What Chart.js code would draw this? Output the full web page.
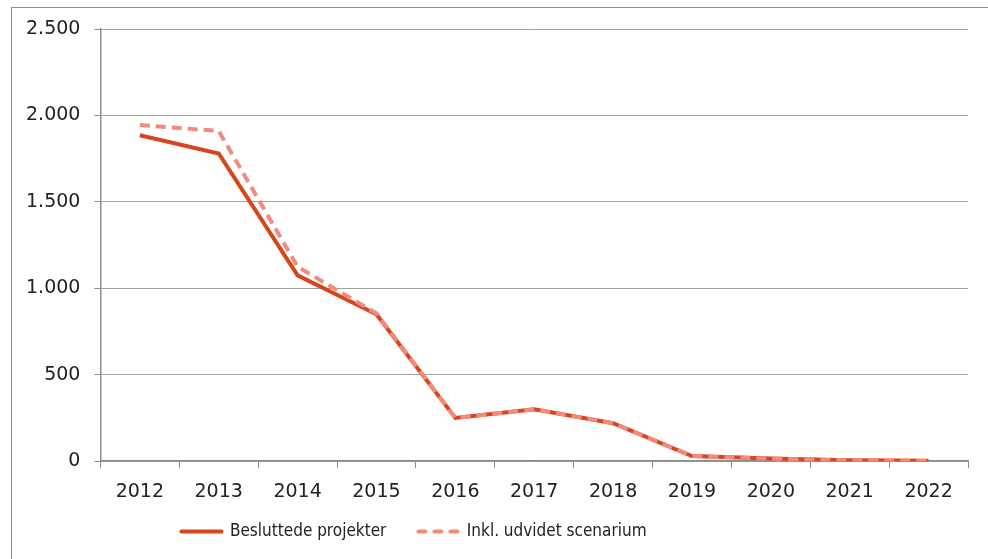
<!DOCTYPE html>
<html>
<head>
<meta charset="utf-8">
<script src="https://cdn.jsdelivr.net/npm/chart.js@4"></script>
<style>
  html, body { margin: 0; padding: 0; background: #fff; }
  #wrap { position: relative; width: 988px; height: 559px; overflow: hidden; }
  #frame { position: absolute; left: 11px; top: 7px; width: 1000px; height: 600px; border: 1px solid #8c8c8c; box-sizing: border-box; }
  canvas { position: absolute; left: 0; top: 0; }
</style>
</head>
<body>
<div id="wrap">
  <div id="frame"></div>
  <canvas id="chart" width="988" height="559"></canvas>
</div>
<script>
// years on the x axis
const years = ['2012', '2013', '2014', '2015', '2016', '2017', '2018', '2019', '2020', '2021', '2022'];
// decided projects (solid line)
const besluttede = [1885, 1780, 1075, 850, 250, 300, 220, 30, 15, 5, 3];
// incl. extended scenario (dashed line)
const udvidet = [1945, 1910, 1125, 855, 250, 300, 220, 30, 15, 5, 3];
const yTicks = [0, 500, 1000, 1500, 2000, 2500];

const tickFont = '"DejaVu Sans", sans-serif';
const legendFont = '"DejaVu Sans Condensed", "DejaVu Sans", sans-serif';

const fmt = v => v.toString().replace(/\B(?=(\d{3})+(?!\d))/g, '.');

// legend in the original sits left of centre and close under the axis labels
const legendShift = {
  id: 'legendShift',
  afterLayout(chart) {
    const lg = chart.legend;
    if (!lg) return;
    lg.right -= 152;
    lg.top -= 24;
    lg.bottom -= 24;
  }
};

const ctx = document.getElementById('chart');
new Chart(ctx, {
  type: 'line',
  data: {
    labels: years,
    datasets: [
      {
        label: 'Inkl. udvidet scenarium',
        data: udvidet,
        borderColor: '#f28b7e',
        backgroundColor: '#f28b7e',
        borderWidth: 4,
        borderDash: [10, 6],
        pointRadius: 0,
        tension: 0
      },
      {
        label: 'Besluttede projekter',
        data: besluttede,
        borderColor: '#d6461e',
        backgroundColor: '#d6461e',
        borderWidth: 4,
        pointRadius: 0,
        tension: 0
      }
    ]
  },
  plugins: [legendShift],
  options: {
    responsive: false,
    animation: false,
    layout: { padding: { top: 29, right: 20, left: 12, bottom: -15 } },
    plugins: {
      tooltip: { enabled: false },
      legend: {
        position: 'bottom',
        reverse: true,
        labels: {
          usePointStyle: true,
          pointStyle: 'line',
          pointStyleWidth: 40,
          color: '#222',
          padding: 32,
          font: { family: legendFont, size: 17 },
          generateLabels: chart => {
            const items = Chart.defaults.plugins.legend.labels.generateLabels(chart);
            items.forEach(it => {
              const ds = chart.data.datasets[it.datasetIndex];
              it.lineDash = ds.borderDash ? [7, 9] : [];
              it.lineWidth = 4;
              it.strokeStyle = ds.borderColor;
              it.lineCap = 'round';
            });
            return items;
          }
        }
      }
    },
    scales: {
      x: {
        offset: true,
        grid: { offset: true, drawOnChartArea: false, drawTicks: true, tickLength: 7, color: '#8c8c8c', tickColor: '#8c8c8c' },
        border: { color: '#8c8c8c', width: 1.5 },
        ticks: { color: '#222', padding: 12, font: { family: tickFont, size: 19 } }
      },
      y: {
        min: 0,
        max: 2500,
        afterBuildTicks: axis => { axis.ticks = yTicks.map(v => ({ value: v })); },
        grid: { color: '#a0a0a0', lineWidth: 1, tickLength: 6, tickColor: '#8c8c8c' },
        border: { color: '#8c8c8c', width: 1.5 },
        ticks: { color: '#222', padding: 14, font: { family: tickFont, size: 19 }, callback: v => fmt(v) }
      }
    }
  }
});
</script>
</body>
</html>
